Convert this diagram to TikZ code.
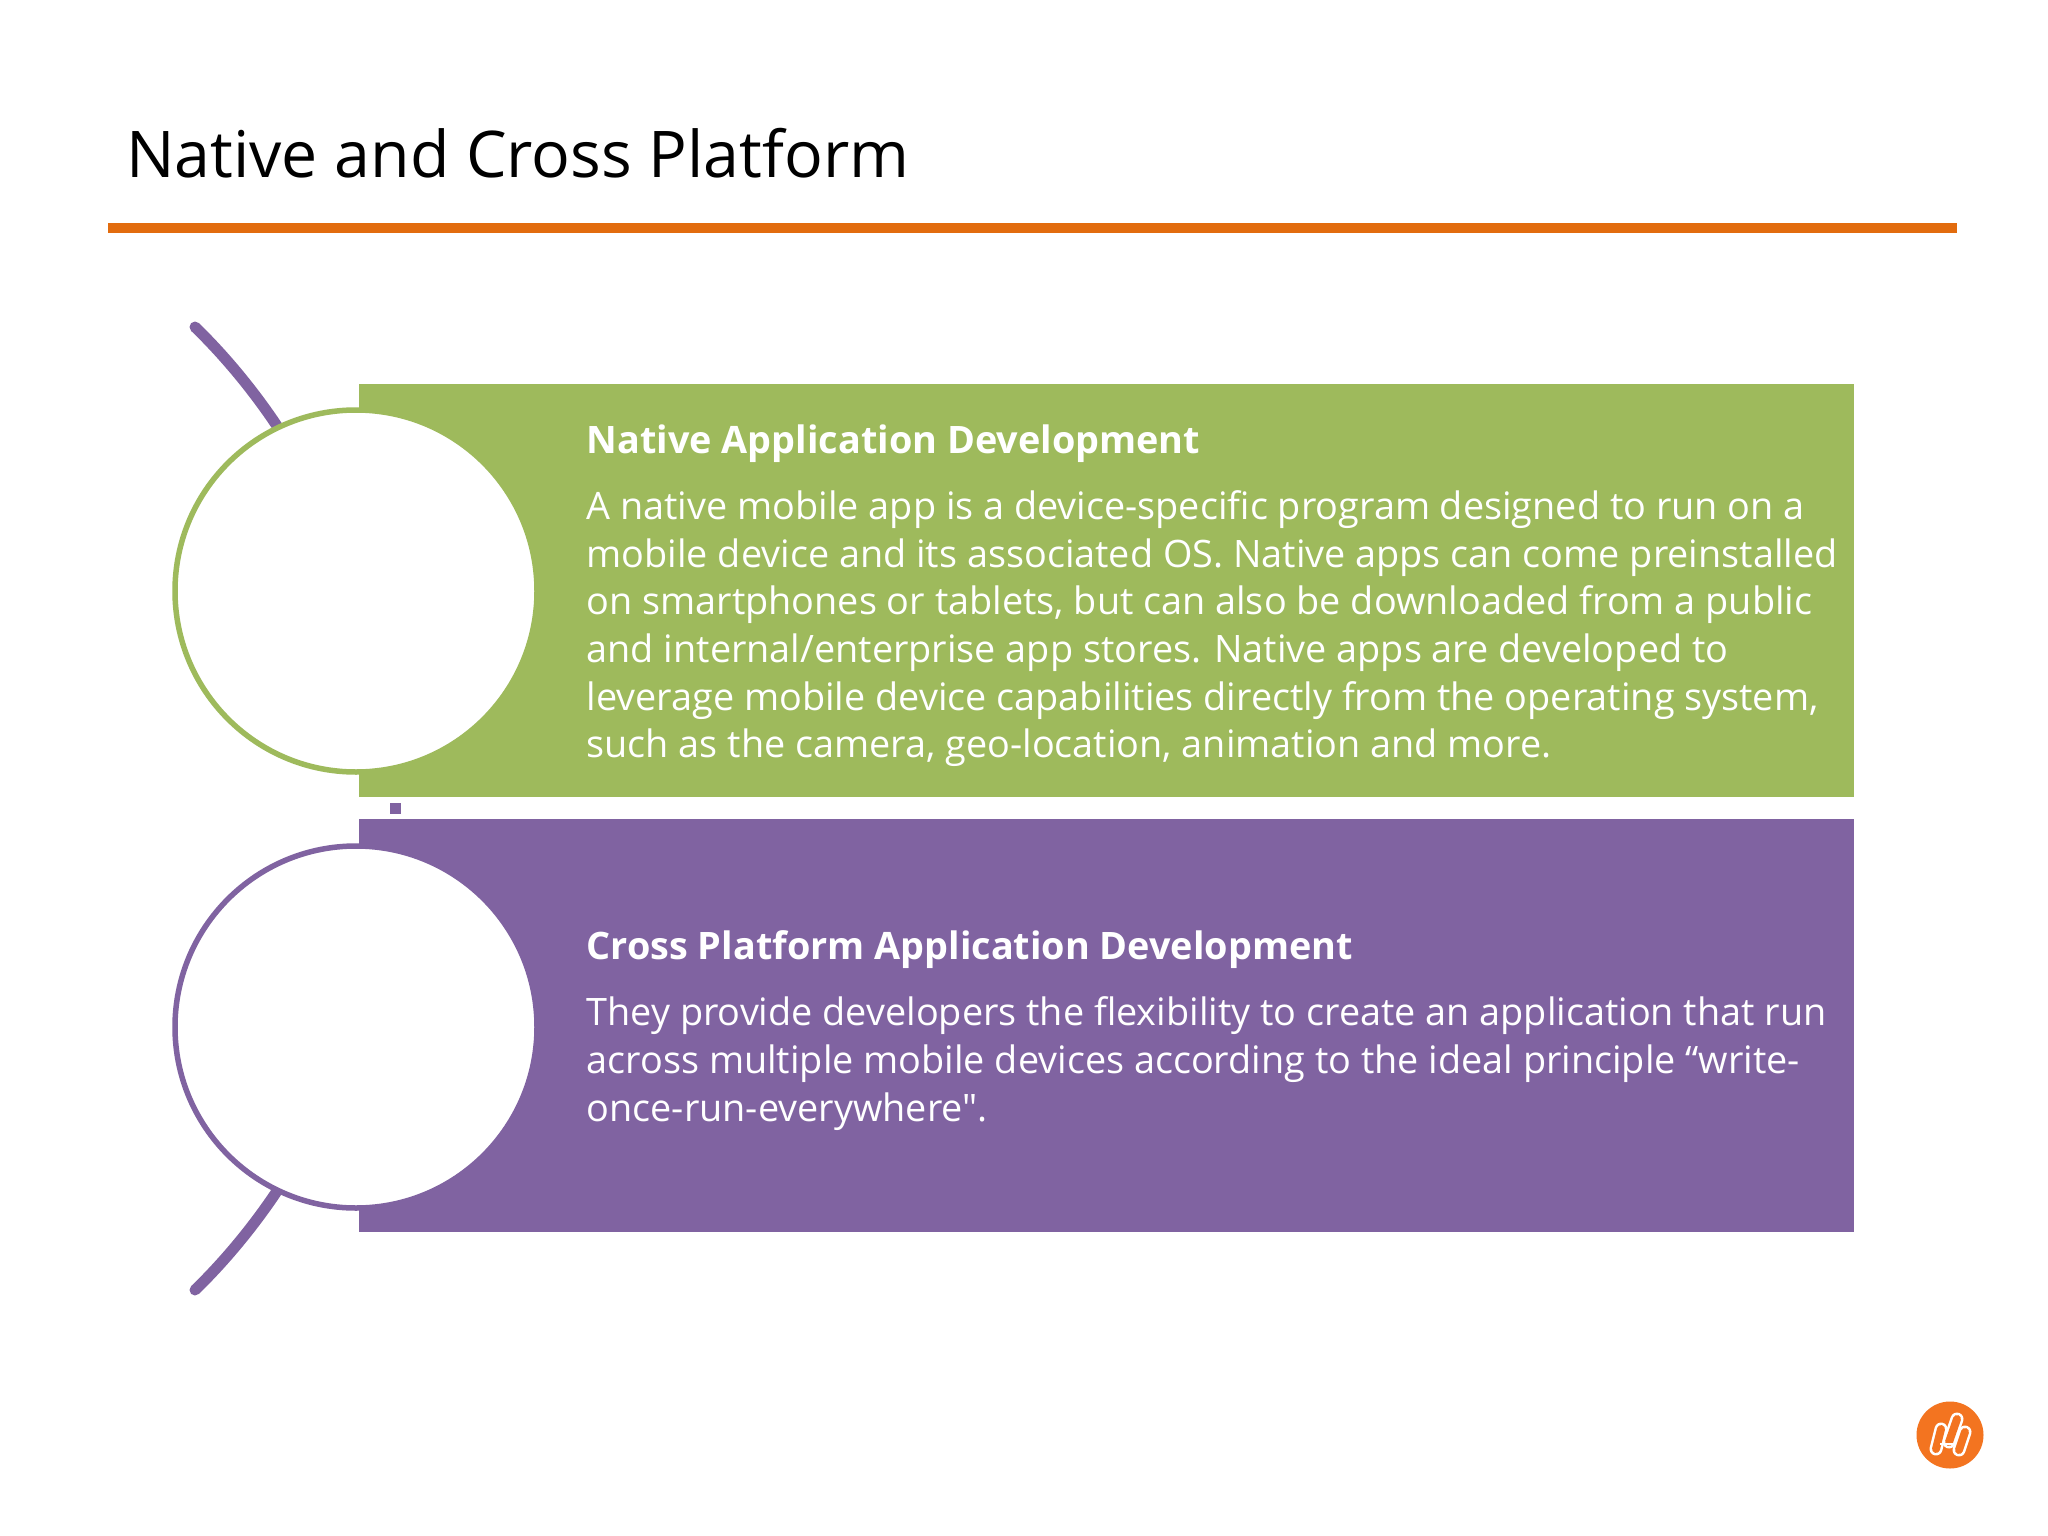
\documentclass[tikz,border=0pt]{standalone}
\usepackage{fontspec}
\setmainfont{Open Sans}[Ligatures=TeXOff]
\definecolor{pgreen}{HTML}{9EBA5C}
\definecolor{ppurple}{HTML}{8063A1}
\definecolor{porange}{HTML}{E26C0E}
\definecolor{plogo}{HTML}{F37420}
\tikzset{
  panel/.style={minimum width=1495,minimum height=#1,anchor=north west,inner sep=0},
  disc/.style={circle,fill=white,line width=5.5,minimum size=362,inner sep=0},
  blurb/.style={anchor=north west,align=left,text=white,inner sep=0,font=\fontsize{37.8}{47.7}\selectfont},
  bar/.style={color=ppurple,line width=11,line cap=round},
  pillout/.style={white,line width=13,line cap=round},
  pillin/.style={plogo,line width=8,line cap=round}
}
\begin{document}
\begin{tikzpicture}[x=1pt,y=-1pt]
\useasboundingbox[fill=white] (0,0) rectangle (2048,1536);
\node[anchor=base west,inner sep=0,font=\fontsize{64.4}{70}\selectfont] (title) at (126,177) {Native and Cross Platform};
\coordinate (ruleL) at (108,228);
\coordinate (ruleR) at (1957,228);
\draw[porange,line width=10] (ruleL) -- (ruleR);
\coordinate (arcTop) at (195,327);
\coordinate (arcBot) at (195,1290);
\coordinate (arcA) at (281,432);
\coordinate (arcB) at (281,1185);
\node[panel=413,fill=pgreen] (pa) at (359,384) {};
\node[panel=413,fill=ppurple] (pb) at (359,819) {};
\draw[bar] (arcTop) .. controls (224,355) and (255,392) .. (arcA);
\draw[bar] (arcBot) .. controls (224,1262) and (255,1225) .. (arcB);
\node[disc,draw=pgreen] (ca) at (356,591) {};
\node[disc,draw=ppurple] (cb) at (356,1027) {};
\node[fill=ppurple,minimum size=11,inner sep=0] (dot) at (395,808.5) {};
\node[blurb] (ta) at (586.5,424.5) {\bfseries Native Application Development\\[18.3pt]
A native mobile app is a device-specific program designed to run on a\\
mobile device and its associated OS. Native apps can come preinstalled\\
on smartphones or tablets, but can also be downloaded from a public\\
and internal/enterprise app stores. Native apps are developed to\\
leverage mobile device capabilities directly from the operating system,\\
such as the camera, geo-location, animation and more.};
\node[blurb] (tb) at (586.5,930.5) {\bfseries Cross Platform Application Development\\[18.3pt]
They provide developers the flexibility to create an application that run\\
across multiple mobile devices according to the ideal principle “write-\\
once-run-everywhere".};
\node[circle,fill=plogo,minimum size=67,inner sep=0] (logo) at (1950,1435) {};
\draw[pillout] (1941,1429) -- (1936,1449);
\draw[pillout] (1957,1419) -- (1949,1442);
\draw[pillout] (1965,1432) -- (1959,1450);
\draw[pillin] (1941,1429) -- (1936,1449);
\draw[pillin] (1957,1419) -- (1949,1442);
\draw[pillin] (1965,1432) -- (1959,1450);
\draw[white,line width=2.5] (1940,1444) -- (1955,1444);
\end{tikzpicture}
\end{document}
